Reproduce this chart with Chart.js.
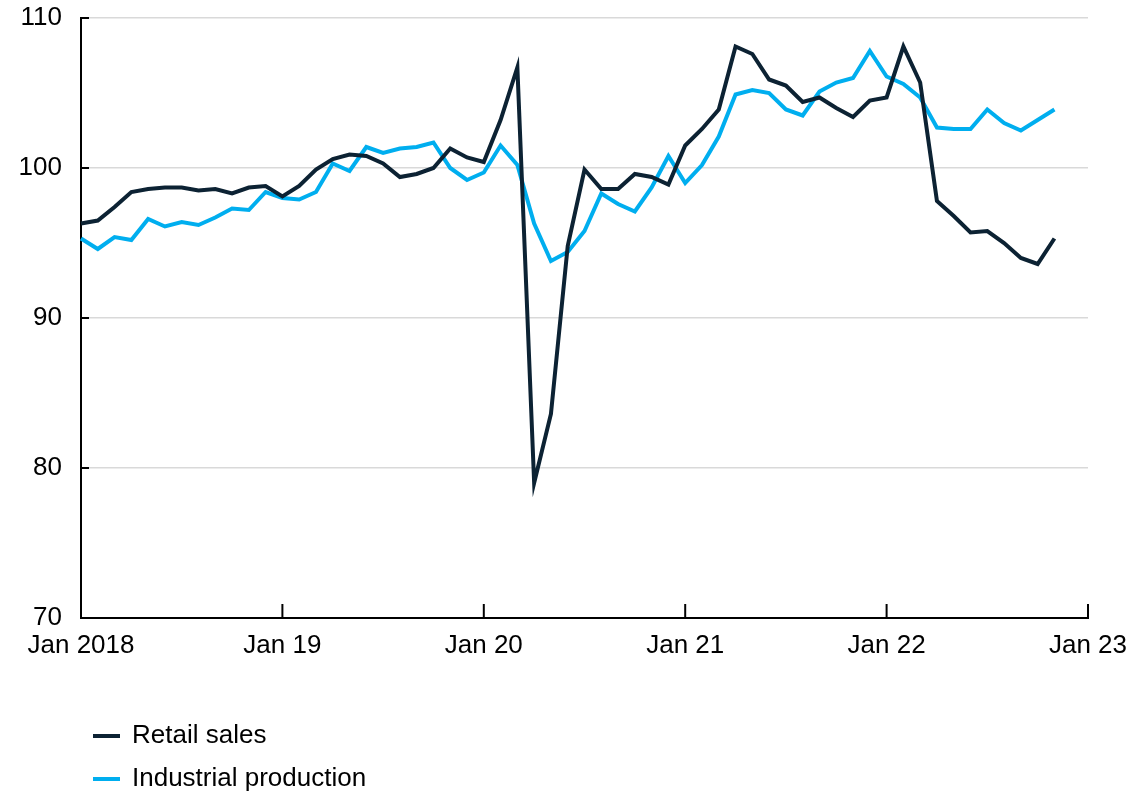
<!DOCTYPE html>
<html>
<head>
<meta charset="utf-8">
<script src="https://cdn.jsdelivr.net/npm/chart.js@4"></script>
<style>
  body { margin: 0; background: #fff; }
  #wrap { position: relative; width: 1130px; height: 791px; }
  .legend { position: absolute; left: 93px; font: 26px/30px "Liberation Sans", Arial, sans-serif; color: #000; }
  .legend span.swatch { display: inline-block; width: 27px; height: 4px; vertical-align: middle; margin-right: 12px; }
</style>
</head>
<body>
<div id="wrap">
  <canvas id="salesChart" width="1130" height="791"></canvas>
  <div class="legend" style="top:719px"><span class="swatch" style="background:#0c2233"></span>Retail sales</div>
  <div class="legend" style="top:762px"><span class="swatch" style="background:#00aeef"></span>Industrial production</div>
</div>
<script>
// monthly index, Jan 2018 .. Nov 2022
const yearLabels = ['Jan 2018', 'Jan 19', 'Jan 20', 'Jan 21', 'Jan 22', 'Jan 23'];

const retailSales = [
  96.3, 96.5, 97.4, 98.4, 98.6, 98.7, 98.7, 98.5, 98.6, 98.3, 98.7, 98.8,
  98.1, 98.8, 99.9, 100.6, 100.9, 100.8, 100.3, 99.4, 99.6, 100.0, 101.3, 100.7,
  100.4, 103.2, 106.7, 79.0, 83.6, 94.8, 99.9, 98.6, 98.6, 99.6, 99.4, 98.9,
  101.5, 102.6, 103.9, 108.1, 107.6, 105.9, 105.5, 104.4, 104.7, 104.0, 103.4, 104.5,
  104.7, 108.1, 105.7, 97.8, 96.8, 95.7, 95.8, 95.0, 94.0, 93.6, 95.3
];

const industrialProduction = [
  95.3, 94.6, 95.4, 95.2, 96.6, 96.1, 96.4, 96.2, 96.7, 97.3, 97.2, 98.4,
  98.0, 97.9, 98.4, 100.3, 99.8, 101.4, 101.0, 101.3, 101.4, 101.7, 100.0, 99.2,
  99.7, 101.5, 100.2, 96.3, 93.8, 94.4, 95.8, 98.3, 97.6, 97.1, 98.7, 100.8,
  99.0, 100.2, 102.1, 104.9, 105.2, 105.0, 103.9, 103.5, 105.1, 105.7, 106.0, 107.8,
  106.1, 105.6, 104.7, 102.7, 102.6, 102.6, 103.9, 103.0, 102.5, 103.2, 103.9
];

// one category per month, Jan 2018 through Jan 2023
const months = [];
for (let i = 0; i <= 60; i++) months.push(i);

// small black tick marks drawn inside the plot, like the original
const innerTicks = {
  id: 'innerTicks',
  afterDraw(chart) {
    const { ctx, chartArea, scales } = chart;
    ctx.save();
    ctx.strokeStyle = '#000';
    ctx.lineWidth = 2;
    scales.y.ticks.forEach((t, i) => {
      const y = scales.y.getPixelForTick(i);
      ctx.beginPath();
      ctx.moveTo(chartArea.left, y);
      ctx.lineTo(chartArea.left + 8, y);
      ctx.stroke();
    });
    for (let i = 12; i <= 60; i += 12) {
      const x = scales.x.getPixelForValue(i);
      ctx.beginPath();
      ctx.moveTo(x, chartArea.bottom);
      ctx.lineTo(x, chartArea.bottom - 14);
      ctx.stroke();
    }
    ctx.restore();
  }
};

Chart.defaults.font.family = '"Liberation Sans", Arial, sans-serif';
Chart.defaults.font.size = 26;
Chart.defaults.color = '#000';

const ctx = document.getElementById('salesChart').getContext('2d');

const salesChart = new Chart(ctx, {
  type: 'line',
  data: {
    labels: months,
    datasets: [{
      label: 'Retail sales',
      data: retailSales,
      borderColor: '#0c2233',
      borderWidth: 4,
      pointRadius: 0,
      tension: 0
    }, {
      label: 'Industrial production',
      data: industrialProduction,
      borderColor: '#00aeef',
      borderWidth: 4,
      pointRadius: 0,
      tension: 0
    }]
  },
  plugins: [innerTicks],
  options: {
    responsive: false,
    animation: false,
    layout: {
      padding: { left: 0, right: 42, top: 18, bottom: 133 }
    },
    plugins: {
      legend: { display: false },
      tooltip: { enabled: false }
    },
    scales: {
      x: {
        offset: false,
        grid: { display: false, drawTicks: false },
        border: { display: true, color: '#000', width: 2 },
        ticks: {
          autoSkip: false,
          maxRotation: 0,
          padding: 12,
          callback: (v, i) => (i % 12 === 0 ? yearLabels[i / 12] : null)
        },
        afterFit: (scale) => {
          scale.height = 40;
          scale.paddingLeft = 0;
          scale.paddingRight = 0;
        }
      },
      y: {
        min: 70,
        max: 110,
        grid: { color: '#d9d9d9', lineWidth: 1.5, drawTicks: false },
        border: { display: true, color: '#000', width: 2 },
        ticks: { stepSize: 10, padding: 19 },
        afterFit: (scale) => {
          scale.width = 81;
          scale.paddingTop = 0;
          scale.paddingBottom = 0;
        }
      }
    }
  }
});
</script>
</body>
</html>
